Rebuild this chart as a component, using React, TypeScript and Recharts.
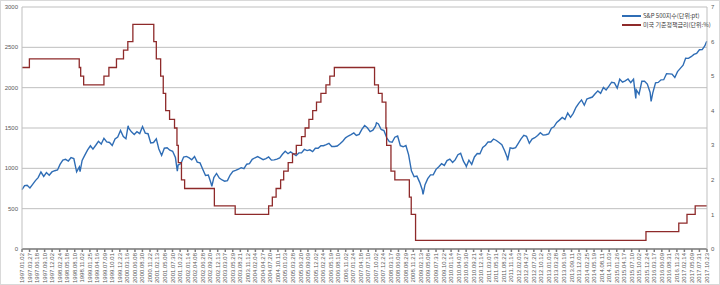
import { LineChart, Line, XAxis, YAxis, CartesianGrid } from "recharts";

// S&P 500 month-end closes, one array per year
const spx1997 = [786.16, 790.82, 757.12, 801.34, 848.28, 885.14, 954.31, 899.47, 947.28, 914.62, 955.4, 970.43];
const spx1998 = [980.28, 1049.34, 1101.75, 1111.75, 1090.82, 1133.84, 1120.67, 957.28, 1017.01, 1098.67, 1163.63, 1229.23];
const spx1999 = [1279.64, 1238.33, 1286.37, 1335.18, 1301.84, 1372.71, 1328.72, 1320.41, 1282.71, 1362.93, 1388.91, 1469.25];
const spx2000 = [1394.46, 1366.42, 1498.58, 1452.43, 1420.6, 1454.6, 1430.83, 1517.68, 1436.51, 1429.4, 1314.95, 1320.28];
const spx2001 = [1366.01, 1239.94, 1160.33, 1249.46, 1255.82, 1224.38, 1211.23, 1133.58, 1040.94, 1059.78, 1139.45, 1148.08];
const spx2002 = [1130.2, 1106.73, 1147.39, 1076.92, 1067.14, 989.82, 911.62, 916.07, 815.28, 885.76, 936.31, 879.82];
const spx2003 = [855.7, 841.15, 848.18, 916.92, 963.59, 974.5, 990.31, 1008.01, 995.97, 1050.71, 1058.2, 1111.92];
const spx2004 = [1131.13, 1144.94, 1126.21, 1107.3, 1120.68, 1140.84, 1101.72, 1104.24, 1114.58, 1130.2, 1173.82, 1211.92];
const spx2005 = [1181.27, 1203.6, 1180.59, 1156.85, 1191.5, 1191.33, 1234.18, 1220.33, 1228.81, 1207.01, 1249.48, 1248.29];
const spx2006 = [1280.08, 1280.66, 1294.83, 1310.61, 1270.09, 1270.2, 1276.66, 1303.82, 1335.85, 1377.94, 1400.63, 1418.3];
const spx2007 = [1438.24, 1406.82, 1420.86, 1482.37, 1530.62, 1503.35, 1455.27, 1473.99, 1526.75, 1549.38, 1481.14, 1468.36];
const spx2008 = [1378.55, 1330.63, 1322.7, 1385.59, 1400.38, 1280.0, 1267.38, 1282.83, 1166.36, 968.75, 896.24, 903.25];
const spx2009 = [825.88, 735.09, 797.87, 872.81, 919.14, 919.32, 987.48, 1020.62, 1057.08, 1036.19, 1095.63, 1115.1];
const spx2010 = [1073.87, 1104.49, 1169.43, 1186.69, 1089.41, 1030.71, 1101.6, 1049.33, 1141.2, 1183.26, 1180.55, 1257.64];
const spx2011 = [1286.12, 1327.22, 1325.83, 1363.61, 1345.2, 1320.64, 1292.28, 1218.89, 1131.42, 1253.3, 1246.96, 1257.6];
const spx2012 = [1312.41, 1365.68, 1408.47, 1397.91, 1310.33, 1362.16, 1379.32, 1406.58, 1440.67, 1412.16, 1416.18, 1426.19];
const spx2013 = [1498.11, 1514.68, 1569.19, 1597.57, 1630.74, 1606.28, 1685.73, 1632.97, 1681.55, 1756.54, 1805.81, 1848.36];
const spx2014 = [1782.59, 1859.45, 1872.34, 1883.95, 1923.57, 1960.23, 1930.67, 2003.37, 1972.29, 2018.05, 2067.56, 2058.9];
const spx2015 = [1994.99, 2104.5, 2067.89, 2085.51, 2107.39, 2063.11, 2103.84, 1972.18, 1920.03, 2079.36, 2080.41, 2043.94];
const spx2016 = [1940.24, 1932.23, 2059.74, 2065.3, 2096.95, 2098.86, 2173.6, 2170.95, 2168.27, 2126.15, 2198.81, 2238.83];
const spx2017 = [2278.87, 2363.64, 2362.72, 2384.2, 2411.8, 2423.41, 2470.3, 2471.65, 2519.36];

const spxYears = [
  [1997, spx1997], [1998, spx1998], [1999, spx1999], [2000, spx2000], [2001, spx2001],
  [2002, spx2002], [2003, spx2003], [2004, spx2004], [2005, spx2005], [2006, spx2006],
  [2007, spx2007], [2008, spx2008], [2009, spx2009], [2010, spx2010], [2011, spx2011],
  [2012, spx2012], [2013, spx2013], [2014, spx2014], [2015, spx2015], [2016, spx2016],
  [2017, spx2017],
] as const;

// daily extremes and end points
const spxExtraDates = ["1997.01.02", "1998.10.08", "2000.03.24", "2001.09.21", "2002.10.09", "2007.10.09", "2009.03.09", "2010.07.02", "2011.10.03", "2015.08.25", "2016.02.11", "2017.10.20"];
const spxExtraValues = [737.01, 959.44, 1527.46, 965.8, 776.76, 1565.15, 676.53, 1022.58, 1099.23, 1867.61, 1829.08, 2575.21];

// Fed funds target rate changes
const rateDates = [
  "1997.01.02", "1997.03.25", "1998.09.29", "1998.10.15", "1998.11.17", "1999.06.30", "1999.08.24",
  "1999.11.16", "2000.02.02", "2000.03.21", "2000.05.16", "2001.01.03", "2001.01.31", "2001.03.20",
  "2001.04.18", "2001.05.15", "2001.06.27", "2001.08.21", "2001.09.17", "2001.10.02", "2001.11.06",
  "2001.12.11", "2002.11.06", "2003.06.25", "2004.06.30", "2004.08.10", "2004.09.21", "2004.11.10",
  "2004.12.14", "2005.02.02", "2005.03.22", "2005.05.03", "2005.06.30", "2005.08.09", "2005.09.20",
  "2005.11.01", "2005.12.13", "2006.01.31", "2006.03.28", "2006.05.10", "2006.06.29", "2007.09.18",
  "2007.10.31", "2007.12.11", "2008.01.22", "2008.01.30", "2008.03.18", "2008.04.30", "2008.10.08",
  "2008.10.29", "2008.12.16", "2015.12.16", "2016.12.14", "2017.03.15", "2017.06.14", "2017.10.23",
];
const rateValues = [
  5.25, 5.5, 5.25, 5.0, 4.75, 5.0, 5.25,
  5.5, 5.75, 6.0, 6.5, 6.0, 5.5, 5.0,
  4.5, 4.0, 3.75, 3.5, 3.0, 2.5, 2.0,
  1.75, 1.25, 1.0, 1.25, 1.5, 1.75, 2.0,
  2.25, 2.5, 2.75, 3.0, 3.25, 3.5, 3.75,
  4.0, 4.25, 4.5, 4.75, 5.0, 5.25, 4.75,
  4.5, 4.25, 3.5, 3.0, 2.25, 2.0, 1.5,
  1.0, 0.25, 0.5, 0.75, 1.0, 1.25, 1.25,
];

const tickLabels = [
  "1997.01.02", "1997.03.27", "1997.06.18", "1997.09.10", "1997.12.02", "1998.02.24", "1998.05.18",
  "1998.08.10", "1998.11.02", "1999.01.25", "1999.04.16", "1999.07.09", "1999.10.01", "1999.12.23",
  "2000.03.16", "2000.06.08", "2000.08.30", "2000.11.22", "2001.02.13", "2001.05.08", "2001.07.30",
  "2001.10.22", "2002.01.14", "2002.04.08", "2002.06.28", "2002.09.20", "2002.12.13", "2003.03.07",
  "2003.05.29", "2003.08.21", "2003.11.12", "2004.02.04", "2004.04.27", "2004.07.20", "2004.10.11",
  "2005.01.03", "2005.03.28", "2005.06.20", "2005.09.09", "2005.12.02", "2006.02.24", "2006.05.19",
  "2006.08.10", "2006.11.02", "2007.01.24", "2007.04.18", "2007.07.10", "2007.10.02", "2007.12.24",
  "2008.03.17", "2008.06.09", "2008.08.29", "2008.11.21", "2009.02.13", "2009.05.08", "2009.07.31",
  "2009.10.22", "2010.01.14", "2010.04.07", "2010.06.30", "2010.09.21", "2010.12.14", "2011.03.07",
  "2011.05.31", "2011.08.22", "2011.11.14", "2012.02.03", "2012.04.27", "2012.07.20", "2012.10.12",
  "2013.01.03", "2013.03.28", "2013.06.19", "2013.09.11", "2013.12.03", "2014.02.25", "2014.05.19",
  "2014.08.11", "2014.11.03", "2015.01.26", "2015.04.17", "2015.07.10", "2015.10.02", "2015.12.24",
  "2016.03.17", "2016.06.09", "2016.08.31", "2016.11.23", "2017.02.14", "2017.05.09", "2017.07.31",
  "2017.10.23",
];

const leftTicks = [0, 500, 1000, 1500, 2000, 2500, 3000];
const rightTicks = [0, 1, 2, 3, 4, 5, 6, 7];

const toTime = (s: string) => {
  const [y, m, d] = s.split(".").map(Number);
  return Date.UTC(y, m - 1, d);
};

const spxData = [
  ...spxYears.flatMap(([year, vals]) =>
    vals.map((v, i) => ({ t: Date.UTC(year, i + 1, 0), spx: v }))
  ),
  ...spxExtraDates.map((d, i) => ({ t: toTime(d), spx: spxExtraValues[i] })),
].sort((a, b) => a.t - b.t);

const rateData = rateDates.map((d, i) => ({ t: toTime(d), rate: rateValues[i] }));

const tickTimes = tickLabels.map(toTime);
const labelByTime: Record<number, string> = {};
tickTimes.forEach((t, i) => (labelByTime[t] = tickLabels[i]));

const FONT = "'Liberation Sans', Arial, sans-serif";

const DateTick = ({ x, y, payload }: any) => (
  <text
    x={x}
    y={y}
    transform={`rotate(-90 ${x} ${y})`}
    textAnchor="end"
    dominantBaseline="central"
    fontSize={6}
    fontFamily={FONT}
    fill="#595959"
  >
    {labelByTime[payload.value]}
  </text>
);

const legendItems = [
  { label: "S&P 500지수(단위:pt)", color: "#2F6DB5" },
  { label: "미국 기준정책금리(단위:%)", color: "#8E2A2A" },
];

export default function App() {
  return (
    <div style={{ position: "relative", width: 720, height: 285, background: "#fff" }}>
      <style>{"body{margin:0}"}</style>
      <LineChart width={720} height={285} margin={{ top: 7, right: 0, left: 0, bottom: 0 }}>
        <CartesianGrid yAxisId="left" vertical={false} stroke="#BFBFBF" />
        <XAxis
          dataKey="t"
          type="number"
          scale="time"
          domain={[toTime("1997.01.02"), toTime("2017.10.23")]}
          ticks={tickTimes}
          interval={0}
          tick={<DateTick />}
          tickSize={3}
          tickMargin={1}
          height={36}
          stroke="#7F7F7F"
          strokeWidth={1.5}
          allowDuplicatedCategory={false}
        />
        <YAxis
          yAxisId="left"
          domain={[0, 3000]}
          ticks={leftTicks}
          width={22}
          tickSize={0}
          tickMargin={4}
          stroke="#BFBFBF"
          tick={{ fontSize: 6, fill: "#595959", fontFamily: FONT }}
        />
        <YAxis
          yAxisId="right"
          orientation="right"
          domain={[0, 7]}
          ticks={rightTicks}
          width={13}
          tickSize={0}
          tickMargin={4}
          stroke="#BFBFBF"
          tick={{ fontSize: 6, fill: "#595959", fontFamily: FONT, textAnchor: "start" }}
        />
        <Line
          yAxisId="left"
          data={spxData}
          dataKey="spx"
          type="linear"
          stroke="#2F6DB5"
          strokeWidth={1.4}
          dot={false}
          isAnimationActive={false}
        />
        <Line
          yAxisId="right"
          data={rateData}
          dataKey="rate"
          type="stepAfter"
          stroke="#8E2A2A"
          strokeWidth={1.3}
          dot={false}
          isAnimationActive={false}
        />
      </LineChart>
      {/* legend */}
      <div
        style={{
          position: "absolute",
          top: 11,
          left: 622,
          fontFamily: "'Noto Sans CJK KR', sans-serif",
          fontSize: 6,
          color: "#404040",
        }}
      >
        {legendItems.map((it) => (
          <div key={it.label} style={{ display: "flex", alignItems: "center", height: 9 }}>
            <span style={{ width: 19, height: 2, background: it.color, marginRight: 2 }} />
            <span>{it.label}</span>
          </div>
        ))}
      </div>
      <div
        style={{
          position: "absolute",
          inset: 0,
          border: "1px solid #D9D9D9",
          pointerEvents: "none",
        }}
      />
    </div>
  );
}
